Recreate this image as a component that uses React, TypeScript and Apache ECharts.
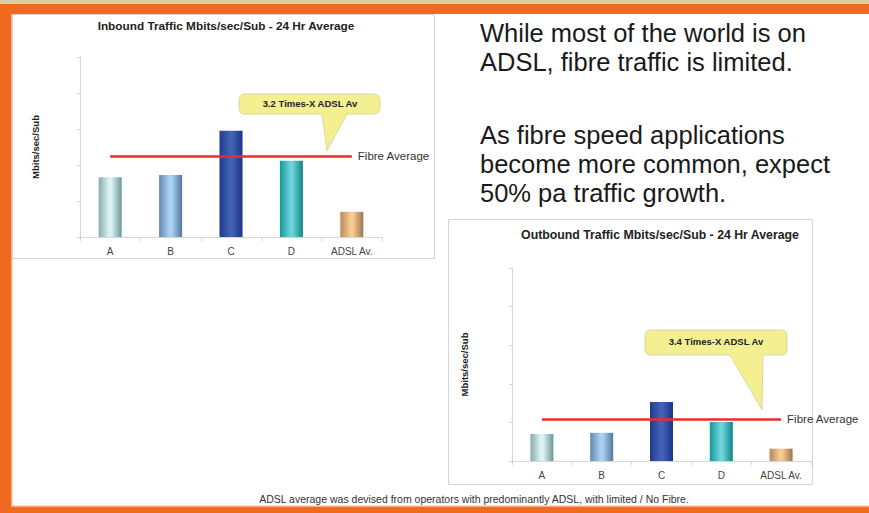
import React, { useEffect, useRef } from 'react';
import * as echarts from 'echarts';

const W = 869;
const H = 513;

// Categories shared by both charts
const categories = ['A', 'B', 'C', 'D', 'ADSL Av.'];

// Inbound traffic (Mbits/sec/Sub, 24 hr average)
const inboundValues = [1.66, 1.72, 2.95, 2.12, 0.7];
const inboundFibreAverage = 2.25;
const inboundCallout = '3.2 Times-X ADSL Av';

// Outbound traffic (Mbits/sec/Sub, 24 hr average)
const outboundValues = [0.7, 0.73, 1.53, 1.01, 0.32];
const outboundFibreAverage = 1.09;
const outboundCallout = '3.4 Times-X ADSL Av';

const inboundTitle = 'Inbound Traffic Mbits/sec/Sub - 24 Hr Average';
const outboundTitle = 'Outbound Traffic Mbits/sec/Sub - 24 Hr Average';
const yAxisName = 'Mbits/sec/Sub';
const fibreLabel = 'Fibre Average';

const paragraph1 = ['While most of the world is on', 'ADSL, fibre traffic is limited.'];
const paragraph2 = [
  'As fibre speed applications',
  'become more common, expect',
  '50% pa traffic growth.',
];
const footnote =
  'ADSL average was devised from operators with predominantly ADSL, with limited / No Fibre.';

// Cylinder-like shading for each bar: [left edge, centre, right edge]
const barShades: [string, string, string][] = [
  ['#86acac', '#ddf3f3', '#6a9797'],
  ['#6487ab', '#a9d1f2', '#55779d'],
  ['#1f3a92', '#4262b4', '#1b338a'],
  ['#139898', '#6fd3da', '#0c8686'],
  ['#b88a5c', '#f9cb94', '#9c7450'],
];

const FONT = 'Liberation Sans, Arial, sans-serif';
const ORANGE = '#f26a21';

function shade(i: number) {
  const [l, c, r] = barShades[i];
  return new echarts.graphic.LinearGradient(0, 0, 1, 0, [
    { offset: 0, color: l },
    { offset: 0.45, color: c },
    { offset: 0.55, color: c },
    { offset: 1, color: r },
  ]);
}

function barSeries(values: number[], fibre: number, idx: number) {
  return {
    type: 'bar',
    xAxisIndex: idx,
    yAxisIndex: idx,
    barWidth: 23,
    data: values.map((v, i) => ({ value: v, itemStyle: { color: shade(i) } })),
    markLine: {
      silent: true,
      symbol: ['none', 'none'],
      lineStyle: { color: '#ee2b2b', width: 2.5, type: 'solid' },
      label: {
        show: true,
        position: 'end',
        formatter: fibreLabel,
        fontFamily: FONT,
        fontSize: 11.5,
        color: '#333',
        distance: 6,
      },
      data: [[{ coord: [categories[0], fibre] }, { coord: [categories[categories.length - 1], fibre] }]],
    },
  };
}

function axisPair(idx: number, nameGap: number) {
  const line = { lineStyle: { color: '#d6d6d6', width: 1 } };
  return {
    x: {
      type: 'category',
      gridIndex: idx,
      data: categories,
      axisLine: line,
      axisTick: { show: true, length: 4, ...line },
      axisLabel: { color: '#444', fontFamily: FONT, fontSize: 10, margin: 9 },
    },
    y: {
      type: 'value',
      gridIndex: idx,
      min: 0,
      max: 5,
      interval: 1,
      axisLine: { show: true, ...line },
      axisTick: { show: true, length: 3, ...line },
      axisLabel: { show: false },
      splitLine: { show: false },
      name: yAxisName,
      nameLocation: 'middle',
      nameGap,
      nameTextStyle: { fontFamily: FONT, fontSize: 9.5, fontWeight: 'bold', color: '#222' },
    },
  };
}

function calloutPath(x0: number, y0: number, x1: number, y1: number, b1: number, b2: number, tx: number, ty: number) {
  const r = 6;
  return [
    `M${x0 + r},${y0}`,
    `L${x1 - r},${y0}`,
    `Q${x1},${y0} ${x1},${y0 + r}`,
    `L${x1},${y1 - r}`,
    `Q${x1},${y1} ${x1 - r},${y1}`,
    `L${b2},${y1}`,
    `L${tx},${ty}`,
    `L${b1},${y1}`,
    `L${x0 + r},${y1}`,
    `Q${x0},${y1} ${x0},${y1 - r}`,
    `L${x0},${y0 + r}`,
    `Q${x0},${y0} ${x0 + r},${y0}`,
    'Z',
  ].join(' ');
}

export default function App() {
  const ref = useRef<HTMLDivElement>(null);

  useEffect(() => {
    document.body.style.margin = '0';
    const chart = echarts.init(ref.current!, null, { renderer: 'svg', width: W, height: H });

    const a0 = axisPair(0, 40);
    const a1 = axisPair(1, 43);

    chart.setOption({
      animation: false,
      backgroundColor: '#ffffff',
      grid: [
        { left: 80, top: 57, width: 302, height: 180 },
        { left: 512, top: 268, width: 299, height: 193 },
      ],
      xAxis: [a0.x, a1.x],
      yAxis: [a0.y, a1.y],
      series: [
        barSeries(inboundValues, inboundFibreAverage, 0),
        barSeries(outboundValues, outboundFibreAverage, 1),
      ],
    });

    // Callout tips sit just above each fibre-average line
    const inFibreY = chart.convertToPixel({ xAxisIndex: 0, yAxisIndex: 0 }, [0, inboundFibreAverage])[1];
    const outFibreY = chart.convertToPixel({ xAxisIndex: 1, yAxisIndex: 1 }, [0, outboundFibreAverage])[1];

    echarts.graphic.registerShape(
      'calloutIn',
      echarts.graphic.extendPath(calloutPath(239, 94, 380, 114, 322, 347, 327, inFibreY - 5), {})
    );
    echarts.graphic.registerShape(
      'calloutOut',
      echarts.graphic.extendPath(calloutPath(645, 330, 787, 355, 730, 763, 762, outFibreY - 9), {})
    );

    const LINE_H = 29;
    const paragraph = (lines: string[], firstLineCentre: number) => ({
      type: 'text',
      x: 480,
      y: firstLineCentre - LINE_H / 2,
      z: 5,
      style: {
        text: lines.join('\n'),
        fontFamily: FONT,
        fontSize: 25.5,
        lineHeight: LINE_H,
        fill: '#1a1a1a',
        textVerticalAlign: 'top',
      },
    });

    const centred = (text: string, x: number, y: number, fontSize: number, bold: boolean, z = 5) => ({
      type: 'text',
      x,
      y,
      z,
      style: {
        text,
        fontFamily: FONT,
        fontSize,
        fontWeight: bold ? 'bold' : 'normal',
        fill: bold ? '#222' : '#333',
        textAlign: 'center',
        textVerticalAlign: 'middle',
      },
    });

    chart.setOption({
      graphic: [
        // slide frame
        { type: 'rect', z: -5, shape: { x: 0, y: 0, width: W, height: 4 }, style: { fill: '#d9cba6' } },
        { type: 'rect', z: -5, shape: { x: 0, y: 4, width: W, height: 10 }, style: { fill: ORANGE } },
        { type: 'rect', z: -5, shape: { x: 0, y: 4, width: 11, height: H - 4 }, style: { fill: ORANGE } },
        { type: 'rect', z: -5, shape: { x: 11, y: 14, width: 1.5, height: 493 }, style: { fill: '#f9b386' } },
        { type: 'rect', z: -5, shape: { x: 0, y: 507, width: W, height: 6 }, style: { fill: ORANGE } },
        { type: 'rect', z: -5, shape: { x: 11, y: 505.5, width: W, height: 1.5 }, style: { fill: '#f9b386' } },
        // chart panels
        {
          type: 'rect',
          z: -4,
          shape: { x: 12.5, y: 14.5, width: 422, height: 244 },
          style: { fill: '#ffffff', stroke: '#d4d4d4', lineWidth: 1 },
        },
        {
          type: 'rect',
          z: -4,
          shape: { x: 448.5, y: 219.5, width: 364, height: 265 },
          style: { fill: '#ffffff', stroke: '#d4d4d4', lineWidth: 1 },
        },
        // chart titles
        centred(inboundTitle, 226, 26, 11.8, true),
        centred(outboundTitle, 660, 235, 12.3, true),
        // callouts
        { type: 'calloutIn', z: 10, style: { fill: '#f4f091', stroke: '#d3cf9a', lineWidth: 0.8 } },
        centred(inboundCallout, 310, 103, 9.5, true, 11),
        { type: 'calloutOut', z: 10, style: { fill: '#f4f091', stroke: '#d3cf9a', lineWidth: 0.8 } },
        centred(outboundCallout, 716, 341, 9.5, true, 11),
        // commentary
        paragraph(paragraph1, 33),
        paragraph(paragraph2, 135),
        centred(footnote, 474, 499, 10.5, false),
      ],
    });

    return () => chart.dispose();
  }, []);

  return <div ref={ref} style={{ position: 'absolute', left: 0, top: 0, width: W, height: H }} />;
}
